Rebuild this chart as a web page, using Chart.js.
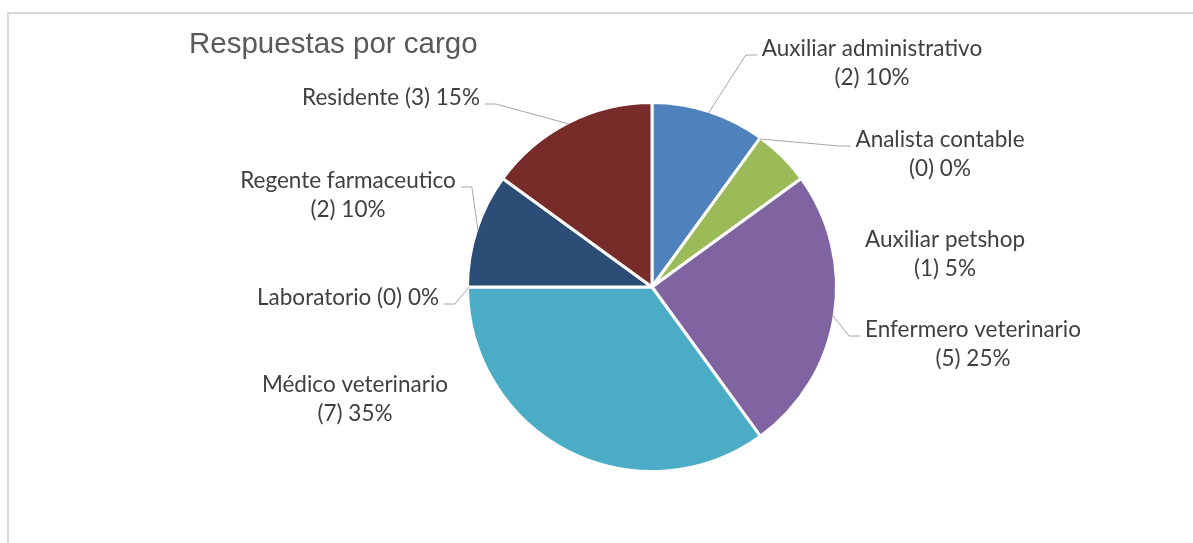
<!DOCTYPE html>
<html>
<head>
<meta charset="utf-8">
<title>Respuestas por cargo</title>
<script src="https://cdn.jsdelivr.net/npm/chart.js"></script>
<style>
  html, body { margin: 0; padding: 0; background: #fff; }
  #wrap { position: relative; width: 1193px; height: 543px; overflow: hidden; }
  #frame { position: absolute; left: 7px; top: 12px; width: 1300px; height: 700px;
           border-top: 2px solid #d9d9d9; border-left: 2px solid #d9d9d9; }
  canvas { position: absolute; left: 0; top: 0; }
</style>
</head>
<body>
<div id="wrap">
  <div id="frame"></div>
  <canvas id="cargoChart" width="1193" height="543"></canvas>
</div>
<script>
const chartTitle = 'Respuestas por cargo';
const categories = ['Auxiliar administrativo', 'Analista contable', 'Auxiliar petshop',
  'Enfermero veterinario', 'Médico veterinario', 'Laboratorio', 'Regente farmaceutico', 'Residente'];
const responses = [2, 0, 1, 5, 7, 0, 2, 3];
const sliceColors = ['#4F81BD', '#C0504D', '#9BBB59', '#8064A2', '#4BACC6', '#F79646', '#2C4D75', '#772C2A'];

// where each label sits, relative to the pie centre (first line baseline, text centred)
const labelPlacement = [
  { dx: 220, dy: -231, wrap: true, leader: true },
  { dx: 288, dy: -140, wrap: true, leader: true },
  { dx: 293, dy: -40, wrap: true, leader: false },
  { dx: 321, dy: 50, wrap: true, leader: true },
  { dx: -297, dy: 105, wrap: true, leader: false },
  { dx: -304, dy: 18, wrap: false, leader: true },
  { dx: -304, dy: -99, wrap: true, leader: true },
  { dx: -261, dy: -182, wrap: false, leader: true }
];

const labelFont = '22.5px Lato';
const lineHeight = 29;

const sliceLabels = {
  id: 'sliceLabels',
  afterDatasetsDraw(chart) {
    const ctx = chart.ctx;
    const meta = chart.getDatasetMeta(0);
    const total = responses.reduce((a, b) => a + b, 0);
    ctx.save();

    // title
    ctx.font = '29.5px "Liberation Sans", Arial, sans-serif';
    ctx.fillStyle = '#595959';
    ctx.textAlign = 'left';
    ctx.textBaseline = 'alphabetic';
    ctx.fillText(chartTitle, 189, 53);

    ctx.font = labelFont;
    ctx.textAlign = 'center';
    ctx.strokeStyle = '#a6a6a6';
    ctx.lineWidth = 1;
    meta.data.forEach((arc, i) => {
      const p = labelPlacement[i];
      const pct = Math.round(responses[i] / total * 100);
      const tail = '(' + responses[i] + ') ' + pct + '%';
      const lines = p.wrap ? [categories[i], tail] : [categories[i] + ' ' + tail];
      const cx = arc.x + p.dx;
      const by = arc.y + p.dy;
      ctx.fillStyle = '#404040';
      lines.forEach((t, k) => ctx.fillText(t, cx, by + k * lineHeight));

      if (p.leader) {
        const w = Math.max(...lines.map(t => ctx.measureText(t).width));
        const onRight = p.dx > 0;
        const edge = onRight ? cx - w / 2 - 5 : cx + w / 2 + 5;
        const elbow = onRight ? edge - 11 : edge + 11;
        const mid = (arc.startAngle + arc.endAngle) / 2;
        const r = arc.outerRadius - 1.5;
        const ax = arc.x + Math.cos(mid) * r;
        const ay = arc.y + Math.sin(mid) * r;
        ctx.beginPath();
        ctx.moveTo(ax, ay);
        ctx.lineTo(elbow, by - 1);
        ctx.lineTo(edge, by - 1);
        ctx.stroke();
      }
    });
    ctx.restore();
  }
};

new Chart(document.getElementById('cargoChart'), {
  type: 'pie',
  data: {
    labels: categories,
    datasets: [{
      data: responses,
      backgroundColor: sliceColors,
      borderColor: '#ffffff',
      borderWidth: 3
    }]
  },
  options: {
    responsive: false,
    animation: false,
    devicePixelRatio: 1,
    layout: { padding: { left: 466, top: 101, right: 355, bottom: 70 } },
    plugins: {
      legend: { display: false },
      tooltip: { enabled: false },
      title: { display: false }
    }
  },
  plugins: [sliceLabels]
});
</script>
</body>
</html>
